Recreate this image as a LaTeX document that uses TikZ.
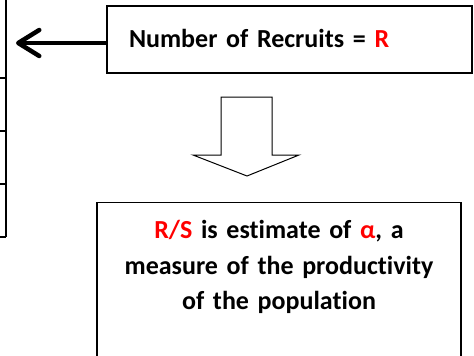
\documentclass[tikz,border=0pt]{standalone}
\usepackage{fontspec}
\setmainfont{Carlito}[Ligatures=NoCommon]
\usetikzlibrary{arrows.meta, positioning}
\definecolor{estred}{HTML}{FF0000}
\newcommand{\boxfont}{\fontsize{26}{35.5}\selectfont\bfseries\spaceskip=3.5pt\relax}

\begin{document}
\begin{tikzpicture}[
    x=1pt, y=1pt,
    every node/.style={font=\boxfont},
    box/.style={draw=black, line width=1.3pt, fill=white},
    pointer/.style={-{Straight Barb[length=21pt,width=26pt,line cap=round,line join=round]}, line width=4.5pt},
    blockarrow/.style={draw=black, line width=1pt, fill=white},
    tableline/.style={line width=1.3pt}
]
\useasboundingbox (0,0) rectangle (474,-356);
\clip (0,0) rectangle (474,-356);

% Table cut off at the left edge
\draw[tableline] (6,2) -- (6,-237);
\foreach \y in {78,131,184,237}
    \draw[tableline] (-2,-\y) -- (6,-\y);

% Recruits box
\node[box, minimum width=365pt, minimum height=67pt, text width=321pt, inner xsep=22pt, align=left] (recruits) at (289.5,-39.5) {%
    \raisebox{3pt}{Number of Recruits = \textcolor{estred}{R}}%
};

% Arrow to the table
\coordinate (tabletip) at (16,-43);
\draw[pointer] (recruits.west |- tabletip) -- (tabletip);

% Block arrow down
\draw[blockarrow] (221,-97) -- (272,-97) -- (272,-155) -- (299,-155) -- (247,-176)
    -- (193,-155) -- (221,-155) -- cycle;

% Estimate box
\node[box, anchor=north, minimum width=364pt, text width=340pt, inner ysep=18pt, text depth=120pt, align=center] (estimate) at (279,-202) {%
    \textcolor{estred}{R/S} is estimate of \textcolor{estred}{α}, a\\
    measure of the productivity\\
    of the population
};

\end{tikzpicture}
\end{document}
